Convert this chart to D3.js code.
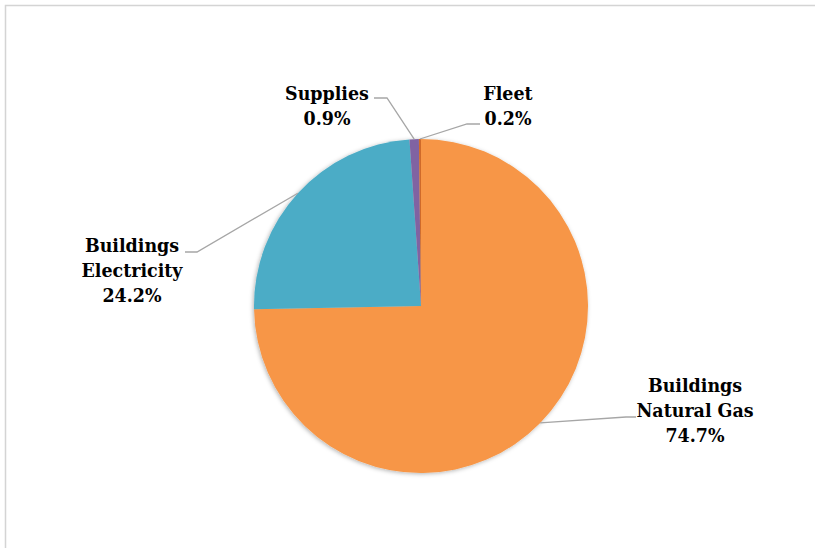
<!DOCTYPE html>
<html>
<head>
<meta charset="utf-8">
<script src="https://cdn.jsdelivr.net/npm/d3@7"></script>
<style>
    body { margin: 0; background: #fff; }
    svg { display: block; }
</style>
</head>
<body>
<div id="chart"></div>
<script>
// Emissions share pie
const categories = ["Buildings Natural Gas", "Buildings Electricity", "Supplies", "Fleet"];
const labelLines = [["Buildings", "Natural Gas"], ["Buildings", "Electricity"], ["Supplies"], ["Fleet"]];
const shares = [74.7, 24.2, 0.9, 0.2];
const colors = ["#F79646", "#4BACC6", "#8064A2", "#D06A2A"];

(function () {
    const width = 815;
    const height = 548;
    const cx = 421, cy = 306, r = 167;

    // label layout: first baseline, leader text end and elbow
    const layout = {
        "Buildings Natural Gas": { x: 695, y: 392, end: [636, 417], elbow: [626, 417] },
        "Buildings Electricity": { x: 132, y: 252, end: [185, 252], elbow: [197, 252] },
        "Supplies": { x: 327, y: 100, end: [374, 98], elbow: [387, 98] },
        "Fleet": { x: 508, y: 100, end: [480, 124], elbow: [467, 124] }
    };

    const data = categories.map((c, i) => ({ name: c, value: shares[i], lines: labelLines[i], color: colors[i] }));

    const svg = d3.select('#chart')
        .append('svg')
        .attr('width', width)
        .attr('height', height);

    svg.append('rect')
        .attr('x', 5.5).attr('y', 5.5)
        .attr('width', 830).attr('height', 560)
        .attr('fill', 'none')
        .attr('stroke', '#D4D4D4')
        .attr('stroke-width', 1.5);

    const defs = svg.append('defs');
    defs.append('filter')
        .attr('id', 'shadow')
        .attr('x', '-10%').attr('y', '-10%').attr('width', '120%').attr('height', '120%')
        .append('feDropShadow')
        .attr('dx', -1).attr('dy', 1)
        .attr('stdDeviation', 2)
        .attr('flood-color', '#000')
        .attr('flood-opacity', 0.3);

    const pie = d3.pie().sort(null).value(d => d.value);
    const arc = d3.arc().innerRadius(0).outerRadius(r);
    const arcs = pie(data);

    const g = svg.append('g').attr('transform', `translate(${cx},${cy})`);

    g.append('g')
        .attr('filter', 'url(#shadow)')
        .selectAll('path')
        .data(arcs)
        .enter()
        .append('path')
        .attr('d', arc)
        .attr('fill', d => d.data.color);

    // leader lines
    svg.selectAll('polyline.leader')
        .data(arcs)
        .enter()
        .append('polyline')
        .attr('class', 'leader')
        .attr('points', d => {
            const a = (d.startAngle + d.endAngle) / 2;
            const p = [cx + r * Math.sin(a), cy - r * Math.cos(a)];
            const L = layout[d.data.name];
            return [p, L.elbow, L.end].map(q => q.join(',')).join(' ');
        })
        .attr('fill', 'none')
        .attr('stroke', '#A6A6A6')
        .attr('stroke-width', 1.3);

    // labels
    const labels = svg.selectAll('text.lbl')
        .data(arcs)
        .enter()
        .append('text')
        .attr('class', 'lbl')
        .attr('text-anchor', 'middle')
        .attr('font-family', '"DejaVu Serif Condensed", "DejaVu Serif", serif')
        .attr('font-weight', 'bold')
        .attr('font-size', '19.4px')
        .attr('fill', '#000');

    labels.each(function (d) {
        const L = layout[d.data.name];
        const lines = d.data.lines.concat([d.data.value.toFixed(1) + '%']);
        d3.select(this).selectAll('tspan')
            .data(lines)
            .enter()
            .append('tspan')
            .attr('x', L.x)
            .attr('y', (t, i) => L.y + i * 25)
            .text(t => t);
    });
})();
</script>
</body>
</html>
